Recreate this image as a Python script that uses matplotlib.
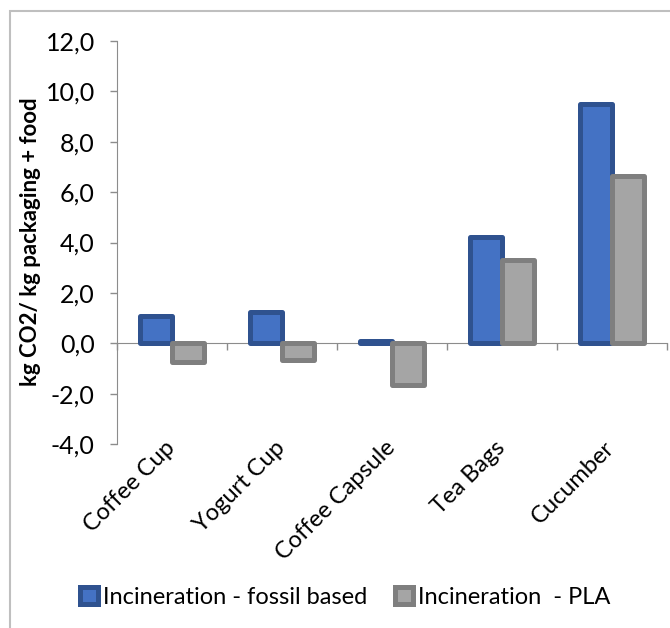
import matplotlib
matplotlib.use("Agg")
import matplotlib.pyplot as plt
import matplotlib.transforms as mtransforms
from matplotlib.patches import Rectangle
import numpy as np

categories = ["Coffee Cup", "Yogurt Cup", "Coffee Capsule", "Tea Bags", "Cucumber"]
fossil = [1.1, 1.25, 0.07, 4.2, 9.5]
pla = [-0.75, -0.65, -1.65, 3.3, 6.65]
series_names = ["Incineration - fossil based", "Incineration  - PLA"]
y_ticks = [-4, -2, 0, 2, 4, 6, 8, 10, 12]
y_tick_labels = ["-4,0", "-2,0", "0,0", "2,0", "4,0", "6,0", "8,0", "10,0", "12,0"]
y_label = "kg CO2/ kg packaging + food"

plt.rcParams['font.family'] = ['Lato', 'DejaVu Sans']
FS = 17

fig = plt.figure(figsize=(6.7, 6.28), dpi=100)
W, H = 670, 628
ax = fig.add_axes([117 / W, 1 - 444 / H, (667 - 117) / W, (444 - 41) / H])

x = np.arange(len(categories))
bw = 0.29
b1 = ax.bar(x - bw / 2, fossil, bw, color="#4472C4", edgecolor="#2F528F",
            linewidth=3.6, joinstyle="round", label=series_names[0], zorder=3)
b2 = ax.bar(x + bw / 2, pla, bw, color="#A5A5A5", edgecolor="#7F7F7F",
            linewidth=3.6, joinstyle="round", label=series_names[1], zorder=3)

ax.set_xlim(-0.5, len(categories) - 0.5)
ax.set_ylim(-4, 12)
ax.set_yticks(y_ticks)
ax.set_yticklabels(y_tick_labels, fontsize=18)
ax.tick_params(axis='y', direction='out', length=5, width=1, color="#8C8C8C", pad=11)

for s in ["top", "right"]:
    ax.spines[s].set_visible(False)
ax.spines["left"].set_color("#8C8C8C")
ax.spines["bottom"].set_position(("data", 0))
ax.spines["bottom"].set_color("#8C8C8C")
ax.spines["bottom"].set_zorder(2)
ax.set_xticks(np.arange(len(categories) + 1) - 0.5)
ax.set_xticklabels([])
ax.tick_params(axis='x', direction='out', length=5, width=1, color="#8C8C8C")

trans = mtransforms.blended_transform_factory(ax.transData, ax.transAxes)
offset = mtransforms.ScaledTranslation(-8 / 100, 7 / 100, fig.dpi_scale_trans)
for i, c in enumerate(categories):
    ax.text(i, 0, c, transform=trans + offset, rotation=45, ha="right", va="top",
            rotation_mode="anchor", fontsize=FS)

fig.text(31 / W, 1 - 242 / H, y_label, rotation=90, ha="center", va="center",
         fontsize=16, fontweight="bold")

fig.legend(handles=[b1, b2], labels=series_names, loc="center", ncol=2,
           bbox_to_anchor=(345 / W, 1 - 597 / H), frameon=False, fontsize=FS,
           handlelength=0.75, handleheight=0.75, handletextpad=0.2, columnspacing=1.2)

fig.patches.append(Rectangle((10 / W, -0.1), 1.2, 1.1 - 11 / H, transform=fig.transFigure,
                             fill=False, edgecolor="#BFBFBF", linewidth=1.5))

fig.savefig("out.png", dpi=100)
